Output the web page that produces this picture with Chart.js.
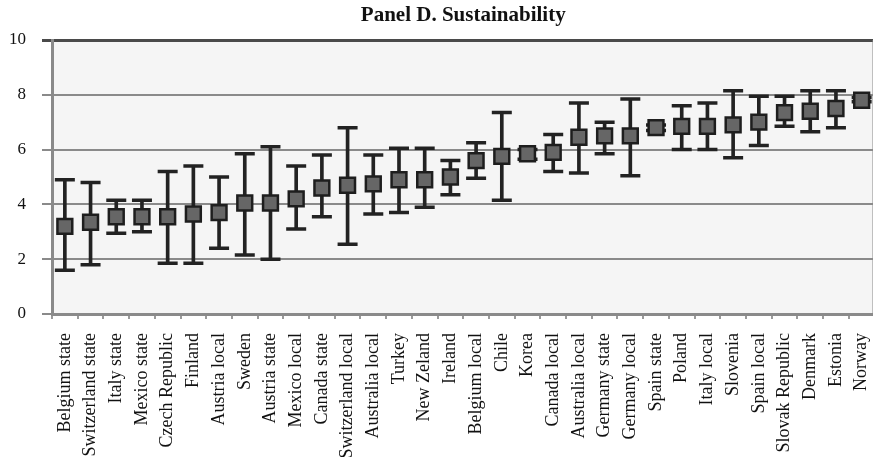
<!DOCTYPE html>
<html>
<head>
<meta charset="utf-8">
<script src="https://cdn.jsdelivr.net/npm/chart.js@4"></script>
<style>
  html, body { margin: 0; padding: 0; background: #fff; overflow: hidden; }
  #wrap { width: 888px; height: 457px; }
</style>
</head>
<body>
<div id="wrap"><canvas id="chart"></canvas></div>
<script>
const labels = ["Belgium state", "Switzerland state", "Italy state", "Mexico state", "Czech Republic", "Finland",
  "Austria local", "Sweden", "Austria state", "Mexico local", "Canada state", "Switzerland local",
  "Australia local", "Turkey", "New Zeland", "Ireland", "Belgium local", "Chile", "Korea", "Canada local",
  "Australia local", "Germany state", "Germany local", "Spain state", "Poland", "Italy local", "Slovenia",
  "Spain local", "Slovak Republic", "Denmark", "Estonia", "Norway"];

const means = [3.2, 3.35, 3.55, 3.55, 3.55, 3.65, 3.7, 4.05, 4.05, 4.2, 4.6, 4.7, 4.75, 4.9, 4.9, 5.0,
  5.6, 5.75, 5.85, 5.9, 6.45, 6.5, 6.5, 6.8, 6.85, 6.85, 6.9, 7.0, 7.35, 7.4, 7.5, 7.8];
const highs = [4.9, 4.8, 4.15, 4.15, 5.2, 5.4, 5.0, 5.85, 6.1, 5.4, 5.8, 6.8, 5.8, 6.05, 6.05, 5.6,
  6.25, 7.35, 6.0, 6.55, 7.7, 7.0, 7.85, 6.9, 7.6, 7.7, 8.15, 7.95, 7.95, 8.15, 8.15, 7.9];
const lows = [1.6, 1.8, 2.95, 3.0, 1.85, 1.85, 2.4, 2.15, 2.0, 3.1, 3.55, 2.55, 3.65, 3.7, 3.9, 4.35,
  4.95, 4.15, 5.65, 5.2, 5.15, 5.85, 5.05, 6.7, 6.0, 6.0, 5.7, 6.15, 6.85, 6.65, 6.8, 7.75];

const yTicks = [0, 2, 4, 6, 8, 10];

const serif = "'Liberation Serif', 'DejaVu Serif', serif";

// grey plot background and right frame line
const plotFrame = {
  id: "plotFrame",
  beforeDraw(chart) {
    const { ctx, chartArea: a } = chart;
    ctx.save();
    ctx.fillStyle = "#f5f5f5";
    ctx.fillRect(a.left, a.top, a.right - a.left, a.bottom - a.top);
    ctx.restore();
  },
  afterDatasetsDraw(chart) {
    const { ctx, chartArea: a } = chart;
    ctx.save();
    ctx.strokeStyle = "#8a8a8a";
    ctx.lineWidth = 2;
    ctx.beginPath();
    ctx.moveTo(a.right - 1, a.top);
    ctx.lineTo(a.right - 1, a.bottom);
    ctx.stroke();
    ctx.restore();
  }
};

new Chart(document.getElementById("chart"), {
  type: "bar",
  data: {
    labels: labels,
    datasets: [
      {
        type: "line",
        label: "mean",
        data: means,
        showLine: false,
        pointStyle: "rect",
        pointRadius: 10.5,
        pointBackgroundColor: "#666666",
        pointBorderColor: "#1e1e1e",
        pointBorderWidth: 2.5,
        order: 0
      },
      {
        type: "line",
        label: "high",
        data: highs,
        showLine: false,
        pointStyle: "line",
        pointRadius: 10,
        pointBorderColor: "#222222",
        pointBorderWidth: 3.5,
        order: 1
      },
      {
        type: "line",
        label: "low",
        data: lows,
        showLine: false,
        pointStyle: "line",
        pointRadius: 10,
        pointBorderColor: "#222222",
        pointBorderWidth: 3.5,
        order: 1
      },
      {
        label: "range",
        data: lows.map((l, i) => [l, highs[i]]),
        backgroundColor: "#222222",
        barThickness: 3,
        order: 2
      }
    ]
  },
  options: {
    responsive: true,
    maintainAspectRatio: false,
    animation: false,
    layout: { padding: { left: 0, right: 0, top: 0, bottom: 0 } },
    plugins: {
      legend: { display: false },
      tooltip: { enabled: false },
      title: {
        display: true,
        text: "Panel D. Sustainability",
        fullSize: false,
        color: "#111",
        font: { family: serif, size: 21, weight: "bold" },
        padding: { top: 3, bottom: 11.8 }
      }
    },
    scales: {
      x: {
        afterFit: (s) => { s.height = 143; s.paddingLeft = 0; s.paddingRight = 0; },
        grid: { drawOnChartArea: false, drawTicks: true, tickLength: 5, color: "#9a9a9a", lineWidth: 2, offset: true },
        border: { color: "#8a8a8a", width: 3 },
        ticks: {
          color: "#111",
          font: { family: serif, size: 18 },
          minRotation: 90,
          maxRotation: 90,
          autoSkip: false,
          padding: 14
        }
      },
      y: {
        min: 0,
        max: 10,
        afterFit: (s) => { s.width = 52; },
        afterBuildTicks: (s) => { s.ticks = yTicks.map((v) => ({ value: v })); },
        grid: {
          color: (c) => (c.tick && c.tick.value === 10 ? "#4a4a4a" : "#8a8a8a"),
          lineWidth: (c) => (c.tick && c.tick.value === 10 ? 3 : 2),
          tickLength: 10
        },
        border: { color: "#8a8a8a", width: 3 },
        ticks: {
          color: "#111",
          font: { family: serif, size: 17 },
          padding: 16
        }
      }
    }
  },
  plugins: [plotFrame]
});
</script>
</body>
</html>
